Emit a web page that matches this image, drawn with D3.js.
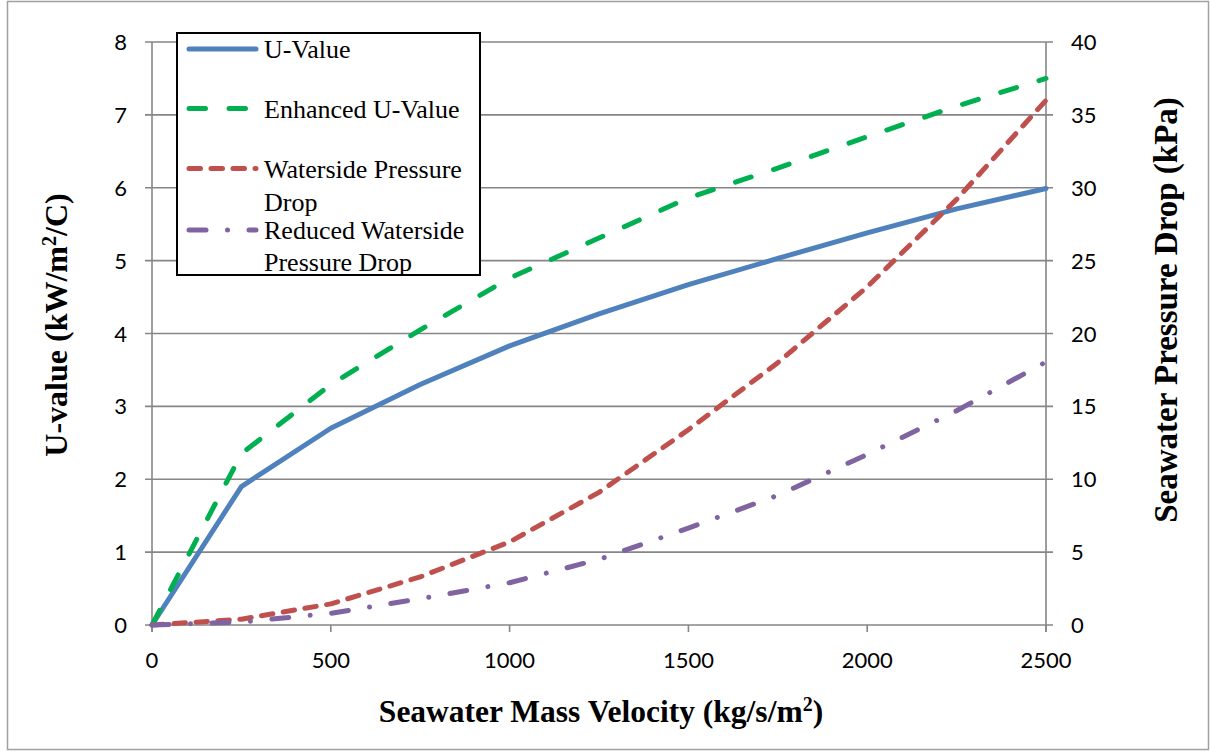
<!DOCTYPE html>
<html>
<head>
<meta charset="utf-8">
<script src="https://cdn.jsdelivr.net/npm/d3@7"></script>
<style>
  body { margin: 0; background: #fff; }
  .tick-label { font-family: Lato, "Open Sans", sans-serif; font-size: 22px; fill: #000; }
  .axis-title { font-family: "Liberation Serif", "Times New Roman", serif; font-weight: bold; fill: #000; }
  .legend-text { font-family: "Liberation Serif", "Times New Roman", serif; font-size: 26px; fill: #000; }
</style>
</head>
<body>
<svg id="chart" width="1210" height="752"></svg>
<script>
// DATA
const massVelocity = [0, 250, 500, 750, 1000, 1250, 1500, 1750, 2000, 2250, 2500];
const uValue = [0, 1.9, 2.7, 3.3, 3.83, 4.27, 4.67, 5.03, 5.38, 5.71, 5.99];
const enhancedUValue = [0, 2.35, 3.3, 4.05, 4.76, 5.31, 5.86, 6.27, 6.7, 7.12, 7.5];
const pressureDrop = [0, 0.4, 1.45, 3.3, 5.7, 9.1, 13.4, 18.0, 23.2, 29.2, 36.0];
const reducedPressureDrop = [0, 0.2, 0.8, 1.8, 2.9, 4.5, 6.65, 8.9, 11.7, 14.7, 18.05];

const xTicks = [0, 500, 1000, 1500, 2000, 2500];
const leftTicks = [0, 1, 2, 3, 4, 5, 6, 7, 8];
const rightTicks = [0, 5, 10, 15, 20, 25, 30, 35, 40];

const series = [
  { name: ["U-Value"], values: uValue, axis: "left", color: "#4F81BD", dash: null },
  { name: ["Enhanced U-Value"], values: enhancedUValue, axis: "left", color: "#00B050", dash: "16.5,23.5" },
  { name: ["Waterside Pressure", "Drop"], values: pressureDrop, axis: "right", color: "#C0504D", dash: "11.5,10.5" },
  { name: ["Reduced Waterside", "Pressure Drop"], values: reducedPressureDrop, axis: "right", color: "#8064A2", dash: "17,21.5,0.01,21.5" }
];

const svg = d3.select("#chart");

// outer frame
svg.append("rect")
  .attr("x", 7.5).attr("y", 1.5)
  .attr("width", 1201).attr("height", 748)
  .attr("fill", "none")
  .attr("stroke", "#a0a0a0")
  .attr("stroke-width", 1.5);

// scales
const x = d3.scaleLinear().domain([0, 2500]).range([152, 1046]);
const yL = d3.scaleLinear().domain([0, 8]).range([625, 42]);
const yR = d3.scaleLinear().domain([0, 40]).range([625, 42]);

const gridColor = "#868686";

// gridlines
svg.append("g").selectAll("line")
  .data(leftTicks)
  .join("line")
  .attr("x1", 145).attr("x2", 1053)
  .attr("y1", d => yL(d)).attr("y2", d => yL(d))
  .attr("stroke", gridColor)
  .attr("stroke-width", 1.6);

// vertical axis lines
[x(0), x(2500)].forEach(px => {
  svg.append("line")
    .attr("x1", px).attr("x2", px)
    .attr("y1", yL(8)).attr("y2", 632)
    .attr("stroke", gridColor)
    .attr("stroke-width", 1.6);
});

// bottom ticks
svg.append("g").selectAll("line")
  .data(xTicks)
  .join("line")
  .attr("x1", d => x(d)).attr("x2", d => x(d))
  .attr("y1", 625).attr("y2", 632)
  .attr("stroke", gridColor)
  .attr("stroke-width", 1.6);

// tick labels
svg.append("g").selectAll("text")
  .data(xTicks)
  .join("text")
  .attr("class", "tick-label")
  .attr("x", d => x(d))
  .attr("y", 668)
  .attr("text-anchor", "middle")
  .text(d => d);

svg.append("g").selectAll("text")
  .data(leftTicks)
  .join("text")
  .attr("class", "tick-label")
  .attr("x", 127)
  .attr("y", d => yL(d) + 8)
  .attr("text-anchor", "end")
  .text(d => d);

svg.append("g").selectAll("text")
  .data(rightTicks)
  .join("text")
  .attr("class", "tick-label")
  .attr("x", 1071)
  .attr("y", d => yR(d) + 8)
  .attr("text-anchor", "start")
  .text(d => d);

// lines
const lineFor = s => d3.line()
  .x((d, i) => x(massVelocity[i]))
  .y(d => (s.axis === "left" ? yL(d) : yR(d)));

svg.append("g").selectAll("path")
  .data(series)
  .join("path")
  .attr("d", s => lineFor(s)(s.values))
  .attr("fill", "none")
  .attr("stroke", s => s.color)
  .attr("stroke-width", 5)
  .attr("stroke-linecap", "round")
  .attr("stroke-linejoin", "round")
  .attr("stroke-dasharray", s => s.dash);

// axis titles
const xTitle = svg.append("text")
  .attr("class", "axis-title")
  .attr("x", 601)
  .attr("y", 722)
  .attr("text-anchor", "middle")
  .style("font-size", "31.5px");
xTitle.append("tspan").text("Seawater Mass Velocity  (kg/s/m");
xTitle.append("tspan").attr("dy", -11).style("font-size", "20px").text("2");
xTitle.append("tspan").attr("dy", 11).text(")");

const leftTitle = svg.append("text")
  .attr("class", "axis-title")
  .attr("transform", "translate(67,325) rotate(-90)")
  .attr("text-anchor", "middle")
  .style("font-size", "32px");
leftTitle.append("tspan").text("U-value (kW/m");
leftTitle.append("tspan").attr("dy", -11).style("font-size", "20px").text("2");
leftTitle.append("tspan").attr("dy", 11).text("/C)");

svg.append("text")
  .attr("class", "axis-title")
  .attr("transform", "translate(1177,310) rotate(-90)")
  .attr("text-anchor", "middle")
  .style("font-size", "33px")
  .text("Seawater Pressure Drop (kPa)");

// legend
const legend = svg.append("g");
legend.append("rect")
  .attr("x", 177).attr("y", 33)
  .attr("width", 303).attr("height", 242)
  .attr("fill", "#fff")
  .attr("stroke", "#000")
  .attr("stroke-width", 2);

const legendLineY = [49, 108.5, 168.5, 230];
const legendTextY = [[57.5], [117.5], [177.5, 211], [238.5, 270.5]];

series.forEach((s, i) => {
  legend.append("line")
    .attr("x1", 189).attr("x2", 256)
    .attr("y1", legendLineY[i]).attr("y2", legendLineY[i])
    .attr("stroke", s.color)
    .attr("stroke-width", 5)
    .attr("stroke-linecap", "round")
    .attr("stroke-dasharray", s.dash);
  s.name.forEach((t, j) => {
    legend.append("text")
      .attr("class", "legend-text")
      .attr("x", 264)
      .attr("y", legendTextY[i][j])
      .text(t);
  });
});
</script>
</body>
</html>
